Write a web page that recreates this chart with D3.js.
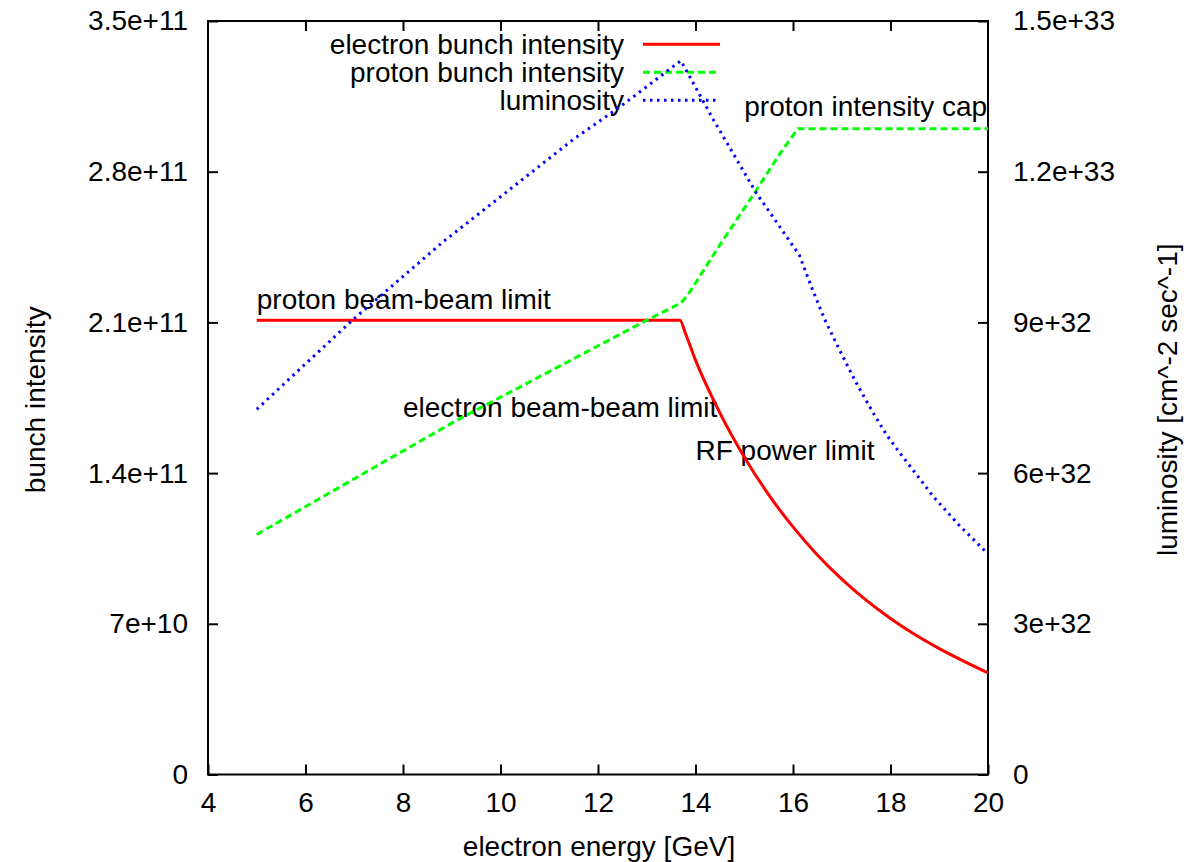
<!DOCTYPE html>
<html lang="en">
<head>
<meta charset="UTF-8">
<title>Bunch intensity and luminosity</title>
<script src="https://d3js.org/d3.v7.min.js"></script>
<style>
    body { margin: 0; background: #fff; }
    text { font-family: "Liberation Sans", Arial, Helvetica, sans-serif; font-size: 28px; fill: #000; }
    .axis path, .axis line { stroke: #000; stroke-width: 2px; }
    .line { fill: none; stroke-width: 3px; }
</style>
</head>
<body>
<div id="chart"></div>
<script>
// values
var energyElectron = [5, 13.68, 13.8, 14, 14.5, 15, 15.5, 16, 16.5, 17, 17.5, 18, 18.5, 19, 19.5, 20];
var electronBunch = [2.11e11, 2.11e11, 2.045e11, 1.925e11, 1.68e11, 1.475e11, 1.30e11, 1.15e11, 1.02e11,
    0.9075e11, 0.81e11, 0.725e11, 0.65e11, 0.585e11, 0.527e11, 0.472e11];

var energyProton = [5, 9.1, 13.0, 13.7, 13.85, 14.5, 15.25, 15.75, 16.1, 20];
var protonBunch = [1.115e11, 1.645e11, 2.11e11, 2.19e11, 2.23e11, 2.46e11, 2.715e11, 2.89e11, 3.0e11, 3.0e11];

var energyLumi = [5, 6.98, 8.83, 10.13, 11.49, 12.45, 13.7, 14.37, 15.25, 15.53, 16.13, 16.38, 16.65, 16.96,
    17.29, 17.65, 17.92, 18.2, 18.55, 18.88, 19.4, 20];
var luminosity = [0.727e33, 0.906e33, 1.061e33, 1.16e33, 1.264e33, 1.329e33, 1.421e33, 1.303e33, 1.157e33,
    1.118e33, 1.034e33, 0.97e33, 0.906e33, 0.844e33, 0.781e33, 0.719e33, 0.676e33, 0.639e33, 0.595e33,
    0.553e33, 0.497e33, 0.439e33];

var xTicks = [4, 6, 8, 10, 12, 14, 16, 18, 20];
var yTicks = [0, 7e10, 1.4e11, 2.1e11, 2.8e11, 3.5e11];
var yTickLabels = ["0", "7e+10", "1.4e+11", "2.1e+11", "2.8e+11", "3.5e+11"];
var y2Ticks = [0, 3e32, 6e32, 9e32, 1.2e33, 1.5e33];
var y2TickLabels = ["0", "3e+32", "6e+32", "9e+32", "1.2e+33", "1.5e+33"];

var seriesNames = ["electron bunch intensity", "proton bunch intensity", "luminosity"];
var annotations = [
    { text: "proton beam-beam limit", x: 5.0, y: 2.16e11 },
    { text: "electron beam-beam limit", x: 8.0, y: 1.66e11 },
    { text: "RF power limit", x: 14.0, y: 1.46e11 },
    { text: "proton intensity cap", x: 15.0, y: 3.06e11 }
];

var W = 1188, H = 862;
var margin = { top: 21, right: 200, bottom: 87.5, left: 208 },
    width = 988 - margin.left,
    height = 774.5 - margin.top;

var svg = d3.select("#chart").append("svg")
    .attr("width", W).attr("height", H);
var g = svg.append("g")
    .attr("transform", "translate(" + margin.left + "," + margin.top + ")");

var x = d3.scaleLinear().domain([4, 20]).range([0, width]);
var y = d3.scaleLinear().domain([0, 3.5e11]).range([height, 0]);
var y2 = d3.scaleLinear().domain([0, 1.5e33]).range([height, 0]);

var styles = [
    { color: "#ff0000", dash: null },
    { color: "#00ff00", dash: "7,4" },
    { color: "#0000ff", dash: "2.5,4.5" }
];

// frame
g.append("rect")
    .attr("width", width).attr("height", height)
    .attr("fill", "none").attr("stroke", "#000").attr("stroke-width", 2);

// axes, ticks pointing inside like gnuplot
g.append("g").attr("class", "axis")
    .attr("transform", "translate(0," + height + ")")
    .call(d3.axisBottom(x).tickValues(xTicks).tickSize(-10).tickPadding(18).tickFormat(d3.format("d")));
g.append("g").attr("class", "axis")
    .call(d3.axisTop(x).tickValues(xTicks.slice(1, -1)).tickSize(-10).tickFormat(""));
g.append("g").attr("class", "axis")
    .call(d3.axisLeft(y).tickValues(yTicks).tickSize(-10).tickPadding(20)
        .tickFormat(function (d, i) { return yTickLabels[i]; }));
g.append("g").attr("class", "axis")
    .attr("transform", "translate(" + width + ",0)")
    .call(d3.axisRight(y2).tickValues(y2Ticks).tickSize(-10).tickPadding(25)
        .tickFormat(function (d, i) { return y2TickLabels[i]; }));
g.selectAll(".axis path.domain").remove();
g.selectAll(".axis text").attr("font-size", null).attr("font-family", null);

// axis titles
g.append("text")
    .attr("x", width / 2 + 1).attr("y", height + 81)
    .attr("text-anchor", "middle")
    .text("electron energy [GeV]");
g.append("text")
    .attr("transform", "translate(" + (-163) + "," + (height / 2 + 2) + ") rotate(-90)")
    .attr("text-anchor", "middle")
    .text("bunch intensity");
g.append("text")
    .attr("transform", "translate(" + (width + 189) + "," + (height / 2 + 2) + ") rotate(-90)")
    .attr("text-anchor", "middle")
    .text("luminosity [cm^-2 sec^-1]");

// series
var line = d3.line().x(function (d) { return x(d[0]); }).y(function (d) { return y(d[1]); });
var line2 = d3.line().x(function (d) { return x(d[0]); }).y(function (d) { return y2(d[1]); });

var series = [
    { pts: d3.zip(energyElectron, electronBunch), gen: line, curve: d3.curveMonotoneX },
    { pts: d3.zip(energyProton, protonBunch), gen: line, curve: d3.curveLinear },
    { pts: d3.zip(energyLumi, luminosity), gen: line2, curve: d3.curveLinear }
];

// annotations
g.selectAll(".note").data(annotations).enter().append("text")
    .attr("class", "note")
    .attr("x", function (d) { return x(d.x); })
    .attr("y", function (d) { return y(d.y); })
    .text(function (d) { return d.text; });

// legend
var legend = g.selectAll(".legend").data(seriesNames).enter().append("g")
    .attr("class", "legend")
    .attr("transform", function (d, i) { return "translate(0," + (23.3 + i * 28) + ")"; });
legend.append("text")
    .attr("x", 416).attr("y", 0).attr("dy", "0.35em")
    .attr("text-anchor", "end")
    .text(function (d) { return d; });
legend.append("line")
    .attr("x1", 435).attr("x2", 512)
    .attr("stroke", function (d, i) { return styles[i].color; })
    .attr("stroke-width", 3)
    .attr("stroke-dasharray", function (d, i) { return styles[i].dash; });

series.forEach(function (s, i) {
    g.append("path")
        .attr("class", "line")
        .attr("d", s.gen.curve(s.curve)(s.pts))
        .attr("stroke", styles[i].color)
        .attr("stroke-dasharray", styles[i].dash);
});
</script>
</body>
</html>
